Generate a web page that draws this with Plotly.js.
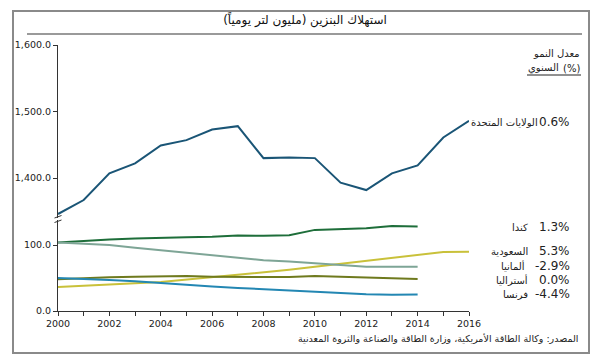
<!DOCTYPE html>
<html>
<head>
<meta charset="utf-8">
<script src="https://cdn.plot.ly/plotly-3.0.1.min.js"></script>
<style>html,body{margin:0;padding:0;background:#fff;}#chart{width:600px;height:364px;}</style>
</head>
<body>
<div id="chart"></div>
<script>
// ---- data ----
var years = [2000,2001,2002,2003,2004,2005,2006,2007,2008,2009,2010,2011,2012,2013,2014,2015,2016];
var usa = [1346,1367,1407,1422,1449,1457,1473,1478,1430,1431,1430,1393,1382,1407,1419,1461,1486];
var canada = [104,106.5,108.5,110,111.5,112,112.5,114.5,114,115,123,124,125.5,129,128];
var saudi = [36.5,38,40.5,42,44,47.5,51,54.5,58.5,62.5,67,71.5,76,80.5,85,89.5,90];
var germany = [104,102,100,96,92,88,84,80,77,75,72.5,70,67,67,67];
var australia = [48,50,51,52,53,53,52,52,51,51.5,53,52,50.5,49,48.5];
var france = [50,49,47,45,42,40,37,35,33,31,29,27,25.5,24.5,25];
var names = ["الولايات المتحدة","كندا","السعودية","ألمانيا","أستراليا","فرنسا"];
var rates = ["0.6%","1.3%","5.3%","-2.9%","0.0%","-4.4%"];
var topTicks = [1400,1500,1600];
var bottomTicks = [0,100];
var chartTitle = "استهلاك البنزين (مليون لتر يومياً)";
var legendHead1 = "معدل النمو";
var legendHead2a = "السنوي";
var legendHead2b = "(%)";
var sourceText = "المصدر: وكالة الطاقة الأمريكية، وزارة الطاقة والصناعة والثروة المعدنية";

// ---- geometry helpers (pixel -> paper) ----
var L = 58, R = 469, T = 45, B = 311;
function px(x){ return (x - L) / (R - L); }
function py(y){ return (B - y) / (B - T); }

var colors = ["#1a5576","#1e6e3a","#c9c13a","#7ea596","#6f7a1e","#2387b3"];
var series = [usa, canada, saudi, germany, australia, france];
var traces = series.map(function(s, i){
  return {
    x: years.slice(0, s.length), y: s, type: 'scatter', mode: 'lines',
    yaxis: i === 0 ? 'y2' : 'y',
    line: {color: colors[i], width: 2},
    hoverinfo: 'skip', showlegend: false
  };
});

var font = "DejaVu Sans, Verdana, sans-serif";
var labelY = [122, 227, 251, 266, 280, 294];
var nameRight = [540, 530, 530, 527, 530, 530];
var annotations = [];
names.forEach(function(n, i){
  annotations.push({xref:'paper', yref:'paper', x: px(572), y: py(labelY[i]), xanchor:'right', yanchor:'middle',
    text: rates[i], showarrow:false, font:{family:font, size:12, color:'#222'}});
  annotations.push({xref:'paper', yref:'paper', x: px(nameRight[i]), y: py(labelY[i]), xanchor:'right', yanchor:'middle',
    text: n, showarrow:false, font:{family:font, size:10, color:'#222'}});
});
annotations.push({xref:'paper', yref:'paper', x: px(582), y: py(53), xanchor:'right', yanchor:'middle',
  text: legendHead1, showarrow:false, font:{family:font, size:10, color:'#222'}});
annotations.push({xref:'paper', yref:'paper', x: px(582), y: py(68), xanchor:'right', yanchor:'middle',
  text: legendHead2b, showarrow:false, font:{family:font, size:10, color:'#222'}});
annotations.push({xref:'paper', yref:'paper', x: px(561), y: py(68), xanchor:'right', yanchor:'middle',
  text: legendHead2a, showarrow:false, font:{family:font, size:10, color:'#222'}});
annotations.push({xref:'paper', yref:'paper', x: px(580), y: py(339), xanchor:'right', yanchor:'middle',
  text: sourceText, showarrow:false, font:{family:font, size:9.5, color:'#222'}});

var shapes = [
  {type:'rect', xref:'paper', yref:'paper', x0: px(13), x1: px(589), y0: py(11), y1: py(353), line:{color:'#8a8a8a', width:2}},
  {type:'line', xref:'paper', yref:'paper', x0: px(27), x1: px(582), y0: py(34), y1: py(34), line:{color:'#9a9a9a', width:2}},
  {type:'line', xref:'paper', yref:'paper', x0: px(527), x1: px(581), y0: py(75), y1: py(75), line:{color:'#222', width:1}},
  {type:'line', xref:'paper', yref:'paper', x0: px(54.5), x1: px(61.5), y0: py(218), y1: py(215.5), line:{color:'#333', width:1}},
  {type:'line', xref:'paper', yref:'paper', x0: px(54.5), x1: px(61.5), y0: py(222.5), y1: py(220), line:{color:'#333', width:1}}
];

var axFont = {family: font, size: 9.5, color: '#222'};
var layout = {
  width: 600, height: 364,
  margin: {l: L, r: 600 - R, t: T, b: 364 - B, pad: 0},
  paper_bgcolor: '#fff', plot_bgcolor: '#fff',
  title: {text: chartTitle, x: px(305), xref:'paper', xanchor:'center', y: 1 - 20/364, yanchor:'middle',
          font: {family: font, size: 12, color: '#111'}},
  xaxis: {range: [2000, 2016], tickvals: years, ticktext: years.map(function(y){ return y % 2 === 0 ? String(y) : ''; }),
          ticks: 'outside', ticklen: 4, tickcolor: '#333', showline: true, linecolor: '#333', linewidth: 1,
          showgrid: false, zeroline: false, tickfont: axFont, anchor: 'y', fixedrange: true},
  yaxis: {domain: [0, py(220)], range: [0, 138], tickvals: bottomTicks, tickformat: ',.1f',
          ticks: 'outside', ticklen: 4, tickcolor: '#333', showline: true, linecolor: '#333', linewidth: 1,
          showgrid: false, zeroline: false, tickfont: axFont, fixedrange: true},
  yaxis2: {domain: [py(218), 1], range: [1340, 1600], tickvals: topTicks, tickformat: ',.1f',
          ticks: 'outside', ticklen: 4, tickcolor: '#333', showline: true, linecolor: '#333', linewidth: 1,
          showgrid: false, zeroline: false, tickfont: axFont, anchor: 'x', fixedrange: true},
  annotations: annotations,
  shapes: shapes,
  showlegend: false
};

Plotly.newPlot('chart', traces, layout, {staticPlot: true, displayModeBar: false});
</script>
</body>
</html>
